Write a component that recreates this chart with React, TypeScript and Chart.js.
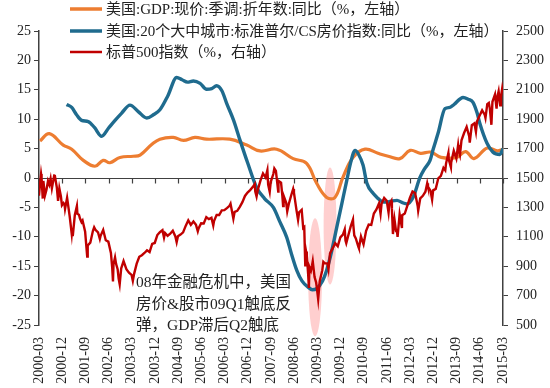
import React, { useEffect, useRef } from "react";
import { Chart, registerables } from "chart.js";

Chart.register(...registerables);

// x positions are months counted from 2000-03
const xTickLabels = [
  "2000-03", "2000-12", "2001-09", "2002-06", "2003-03", "2003-12", "2004-09",
  "2005-06", "2006-03", "2006-12", "2007-09", "2008-06", "2009-03", "2009-12",
  "2010-09", "2011-06", "2012-03", "2012-12", "2013-09", "2014-06", "2015-03",
];

const leftTicks = [-25, 25, 5];
const rightTicks = [500, 2500, 200];

const legendLabels = [
  "美国:GDP:现价:季调:折年数:同比（%，左轴）",
  "美国:20个大中城市:标准普尔/CS房价指数:同比（%，左轴）",
  "标普500指数（%，右轴）",
];

const noteLines = ["08年金融危机中，美国", "房价&股市09Q1触底反", "弹，GDP滞后Q2触底"];

// GDP YoY (left axis)
const gdpMonths = [0.4, 4, 9.4, 12.7, 17.2, 21.7, 24.9, 27.5, 31.4, 36.6, 39.2, 43.7, 46.9, 52.1, 56, 60.5, 65, 74, 80.6, 85.7, 92.2, 98.6, 103.8, 107.7, 111.6, 114.8, 117.9, 121.8, 126.5, 131.5, 135.5, 140, 144, 148, 152, 156, 162, 165.5, 168.7, 173.9, 177.8, 180];
const gdpValues = [6.3, 7.55, 5.6, 4.9, 3.0, 2.0, 3.0, 2.6, 3.5, 3.7, 3.9, 5.7, 6.6, 6.9, 6.4, 6.9, 6.6, 6.6, 5.6, 4.6, 4.9, 3.3, 2.5, -0.9, -3.3, -3.3, 0.1, 3.5, 4.9, 4.2, 3.7, 3.3, 4.7, 4.2, 4.4, 3.5, 3.5, 4.5, 3.3, 5.1, 4.6, 4.9];

// Case-Shiller 20 city YoY (left axis)
const csMonths = [10.7, 12.7, 14.5, 16.5, 19.1, 21.5, 24.3, 27, 29.5, 32, 35.3, 38.5, 41.8, 44.5, 46.9, 50, 53.4, 55.5, 57.6, 59.9, 62.5, 65, 67, 68.9, 71, 72.8, 75.5, 78, 81, 84.4, 87.5, 90.9, 93.5, 96.1, 98, 100, 102, 104.5, 106, 107.7, 110, 111.6, 113.5, 115.5, 117.5, 119.4, 121, 122.6, 124, 125.7, 127.2, 129.6, 131.1, 133, 135, 137, 138.9, 141, 142.7, 145.1, 147.8, 149.5, 151.7, 153, 154.8, 157.5, 159.4, 161, 164.5, 166.5, 168.3, 170, 171, 173.8, 176.1, 178.8, 180];
const csValues = [12.5, 12.0, 10.8, 9.8, 9.6, 8.6, 7.1, 8.5, 9.8, 11.0, 12.4, 11.3, 10.2, 10.8, 11.6, 14.0, 17.1, 16.7, 16.3, 16.5, 16.1, 15.1, 15.2, 15.7, 14.8, 12.7, 9.8, 6.4, 2.5, -1.6, -3.5, -5.0, -7.5, -10.1, -13.0, -15.7, -17.5, -18.6, -19.0, -18.8, -17.5, -15.7, -12.5, -8.4, -4.3, -0.4, 2.8, 4.7, 4.0, 2.2, -0.9, -2.6, -3.3, -4.0, -4.1, -3.9, -3.8, -4.2, -4.4, -3.3, 0.1, 1.5, 3.0, 5.0, 7.6, 11.8, 12.0, 12.5, 13.7, 13.4, 12.9, 11.0, 9.3, 5.9, 4.4, 4.0, 5.0];

// S&P 500 (right axis)
const spxMonths = [0, 0.4, 0.8, 1.0, 1.45, 1.7, 2.3, 2.9, 3.5, 4.0, 4.5, 5.0, 5.9, 6.1, 6.9, 7.4, 7.9, 8.5, 8.9, 9.5, 9.9, 10.1, 10.9, 11.9, 12.7, 12.9, 13.1, 13.9, 14.7, 14.9, 15.5, 15.9, 16.5, 16.9, 17.9, 18.7, 18.9, 19.9, 20.9, 21.4, 21.9, 22.9, 23.6, 23.9, 24.9, 25.9, 26.9, 27.9, 28.4, 28.7, 28.9, 29.5, 29.9, 30.5, 30.9, 31.3, 31.9, 32.8, 33.9, 34.9, 35.9, 36.4, 36.9, 37.9, 38.9, 39.9, 40.9, 41.9, 42.9, 43.9, 44.9, 45.9, 46.9, 47.9, 48.5, 48.9, 49.9, 50.9, 51.9, 52.9, 53.4, 53.9, 54.9, 55.9, 56.9, 57.9, 58.9, 59.9, 60.9, 61.6, 61.9, 62.9, 63.9, 64.9, 65.9, 66.9, 67.6, 67.9, 68.9, 69.9, 70.9, 71.9, 72.9, 73.9, 74.3, 74.9, 75.4, 75.9, 76.9, 77.9, 78.9, 79.9, 80.9, 81.9, 82.9, 83.7, 83.9, 84.4, 84.9, 85.9, 86.9, 87.9, 88.6, 88.9, 89.5, 89.9, 90.9, 91.3, 91.9, 92.8, 92.9, 93.9, 94.4, 94.7, 94.9, 95.9, 96.3, 96.9, 97.9, 98.6, 98.9, 99.9, 100.5, 100.9, 101.9, 102.5, 102.9, 103.3, 103.6, 103.9, 104.4, 104.7, 104.9, 105.5, 105.9, 106.2, 106.9, 107.5, 107.9, 108.3, 108.9, 109.9, 110.3, 110.9, 111.9, 112.3, 112.9, 113.9, 114.9, 115.9, 116.9, 117.9, 118.6, 118.9, 119.2, 119.9, 120.9, 121.8, 121.9, 122.3, 122.9, 123.9, 124.1, 124.9, 125.9, 126.9, 127.9, 128.9, 129.9, 130.9, 131.9, 132.5, 132.9, 133.9, 134.9, 135.6, 135.9, 136.7, 136.9, 137.3, 137.9, 138.5, 138.9, 139.1, 139.9, 140.8, 140.9, 141.9, 142.9, 143.9, 144.9, 145.9, 146.9, 147.1, 147.9, 148.9, 149.9, 150.6, 150.9, 151.9, 152.5, 152.9, 153.9, 154.9, 155.9, 156.9, 157.6, 157.9, 158.8, 158.9, 159.8, 159.9, 160.9, 161.9, 162.6, 162.9, 163.3, 163.9, 164.9, 165.9, 166.9, 167.1, 167.9, 168.9, 169.5, 169.9, 170.9, 171.9, 172.9, 173.2, 173.9, 174.5, 174.9, 175.5, 175.9, 176.9, 177.5, 177.9, 178.3, 178.9, 179.2, 179.7, 180];
const spxValues = [1380, 1460, 1527, 1500, 1360, 1480, 1380, 1420, 1480, 1455, 1495, 1430, 1518, 1520, 1437, 1345, 1429, 1375, 1315, 1330, 1320, 1290, 1366, 1240, 1120, 1160, 1105, 1249, 1310, 1256, 1250, 1224, 1200, 1211, 1134, 966, 1041, 1060, 1139, 1165, 1148, 1130, 1085, 1107, 1147, 1077, 1067, 990, 890, 797, 912, 960, 916, 880, 815, 777, 886, 935, 880, 856, 841, 800, 848, 917, 964, 975, 990, 1008, 996, 1051, 1058, 1112, 1131, 1145, 1095, 1126, 1107, 1121, 1141, 1102, 1063, 1104, 1115, 1130, 1174, 1212, 1181, 1204, 1181, 1138, 1157, 1192, 1191, 1234, 1220, 1229, 1177, 1207, 1249, 1248, 1280, 1281, 1295, 1311, 1325, 1270, 1223, 1270, 1277, 1304, 1336, 1378, 1401, 1418, 1438, 1459, 1407, 1374, 1421, 1482, 1531, 1503, 1553, 1455, 1406, 1474, 1527, 1565, 1549, 1408, 1481, 1468, 1380, 1310, 1379, 1331, 1273, 1323, 1386, 1426, 1400, 1280, 1215, 1267, 1283, 1160, 1166, 899, 1000, 969, 850, 752, 896, 870, 903, 934, 826, 790, 735, 676, 798, 873, 930, 919, 919, 880, 987, 1021, 1057, 1036, 1096, 1115, 1150, 1074, 1056, 1104, 1169, 1217, 1187, 1110, 1089, 1031, 1022, 1102, 1049, 1141, 1183, 1181, 1258, 1286, 1327, 1256, 1326, 1364, 1345, 1265, 1321, 1345, 1292, 1119, 1219, 1140, 1131, 1099, 1253, 1160, 1247, 1258, 1312, 1366, 1408, 1398, 1310, 1278, 1362, 1379, 1407, 1465, 1441, 1412, 1353, 1416, 1426, 1498, 1515, 1569, 1552, 1598, 1669, 1631, 1573, 1606, 1686, 1633, 1725, 1682, 1656, 1757, 1806, 1848, 1783, 1741, 1859, 1872, 1815, 1884, 1924, 1960, 1931, 1909, 2003, 2011, 1972, 1862, 2018, 2068, 1972, 2059, 2090, 1995, 2050, 2110, 2080];

// highlighted troughs (left-axis units)
const highlightMonths = [107.1, 112.9];
const highlightHalfWidths = [2.7, 2.5];
const highlightTops = [-6.85, 1.8];
const highlightBottoms = [-26.9, -18.1];

const COLORS = { gdp: "#ED7D31", cs: "#1F6B8E", spx: "#C00000", axis: "#404040" };
const FONT = "'Times New Roman', 'Liberation Serif', 'Noto Sans CJK SC', serif";

const zip = (xs: number[], ys: number[]) => xs.map((x, i) => ({ x, y: ys[i] }));

const overlayPlugin = {
  id: "overlay",
  beforeDatasetsDraw(chart: any) {
    const { ctx, chartArea, scales } = chart;
    const x = scales.x;
    const y = scales.y;
    const y0 = Math.round(y.getPixelForValue(0)) + 0.5;
    ctx.save();
    ctx.strokeStyle = COLORS.axis;
    ctx.lineWidth = 1.2;
    ctx.beginPath();
    ctx.moveTo(chartArea.left, y0);
    ctx.lineTo(chartArea.right, y0);
    for (const t of x.ticks) {
      const px = Math.round(x.getPixelForValue(t.value)) + 0.5;
      ctx.moveTo(px, y0);
      ctx.lineTo(px, y0 + 5);
    }
    ctx.stroke();
    ctx.fillStyle = "rgba(255, 140, 140, 0.42)";
    highlightMonths.forEach((m, i) => {
      const cx = x.getPixelForValue(m);
      const rx = x.getPixelForValue(m + highlightHalfWidths[i]) - cx;
      const top = y.getPixelForValue(highlightTops[i]);
      const bot = y.getPixelForValue(highlightBottoms[i]);
      ctx.beginPath();
      ctx.ellipse(cx, (top + bot) / 2, rx, (bot - top) / 2, 0, 0, Math.PI * 2);
      ctx.fill();
    });
    ctx.restore();
  },
  afterDatasetsDraw(chart: any) {
    const { ctx } = chart;
    ctx.save();
    const colors = [COLORS.gdp, COLORS.cs, COLORS.spx];
    const widths = [3.5, 3.5, 2.5];
    const rows = [9, 31, 52];
    ctx.font = `15px ${FONT}`;
    ctx.textBaseline = "middle";
    ctx.textAlign = "left";
    legendLabels.forEach((label, i) => {
      ctx.strokeStyle = colors[i];
      ctx.lineWidth = widths[i];
      ctx.beginPath();
      ctx.moveTo(70, rows[i]);
      ctx.lineTo(102, rows[i]);
      ctx.stroke();
      ctx.fillStyle = "#222";
      ctx.fillText(label, 106, rows[i] + 1);
    });
    ctx.font = `15.5px ${FONT}`;
    ctx.fillStyle = "#222";
    noteLines.forEach((line, i) => {
      ctx.fillText(line, 136, 283 + i * 21.5);
    });
    ctx.restore();
  },
};

export default function App() {
  const ref = useRef<HTMLCanvasElement | null>(null);
  useEffect(() => {
    if (!ref.current) return;
    const tickFont = { family: FONT, size: 14 };
    const chart = new Chart(ref.current, {
      type: "line",
      data: {
        datasets: [
          {
            label: legendLabels[0],
            data: zip(gdpMonths, gdpValues),
            borderColor: COLORS.gdp,
            borderWidth: 3.2,
            pointRadius: 0,
            tension: 0.4,
            yAxisID: "y",
            order: 2,
          },
          {
            label: legendLabels[1],
            data: zip(csMonths, csValues),
            borderColor: COLORS.cs,
            borderWidth: 3.4,
            pointRadius: 0,
            cubicInterpolationMode: "monotone",
            yAxisID: "y",
            order: 1,
          },
          {
            label: legendLabels[2],
            data: zip(spxMonths, spxValues),
            borderColor: COLORS.spx,
            borderWidth: 2.4,
            pointRadius: 0,
            tension: 0,
            yAxisID: "y2",
            order: 0,
          },
        ],
      },
      options: {
        animation: false,
        responsive: false,
        layout: { padding: { top: 31, left: 0, right: 0, bottom: 0 } },
        plugins: { legend: { display: false }, tooltip: { enabled: false } },
        scales: {
          x: {
            type: "linear",
            min: 0,
            max: 180,
            grid: { display: false, drawTicks: false },
            border: { display: false },
            ticks: {
              stepSize: 9,
              autoSkip: false,
              maxRotation: 90,
              minRotation: 90,
              padding: 12,
              color: "#222",
              font: tickFont,
              callback: (v: any) => xTickLabels[Math.round(Number(v) / 9)] ?? "",
            },
            afterFit: (s: any) => {
              s.height = 63;
            },
          },
          y: {
            position: "left",
            min: leftTicks[0],
            max: leftTicks[1],
            grid: { drawOnChartArea: false, tickLength: 5, color: COLORS.axis },
            border: { color: COLORS.axis, width: 1.5 },
            ticks: { stepSize: leftTicks[2], padding: 3, color: "#222", font: tickFont, callback: (v: any) => String(v) },
            afterFit: (s: any) => {
              s.width = 39;
            },
          },
          y2: {
            position: "right",
            min: rightTicks[0],
            max: rightTicks[1],
            grid: { drawOnChartArea: false, tickLength: 5, color: COLORS.axis },
            border: { color: COLORS.axis, width: 1.5 },
            ticks: { stepSize: rightTicks[2], padding: 8, color: "#222", font: tickFont, callback: (v: any) => String(v) },
            afterFit: (s: any) => {
              s.width = 47;
            },
          },
        },
      },
      plugins: [overlayPlugin],
    } as any);
    return () => chart.destroy();
  }, []);
  return (
    <div style={{ position: "fixed", left: 0, top: 0, width: 550, height: 388, background: "#fff" }}>
      <canvas ref={ref} width={550} height={388} style={{ display: "block" }} />
    </div>
  );
}
